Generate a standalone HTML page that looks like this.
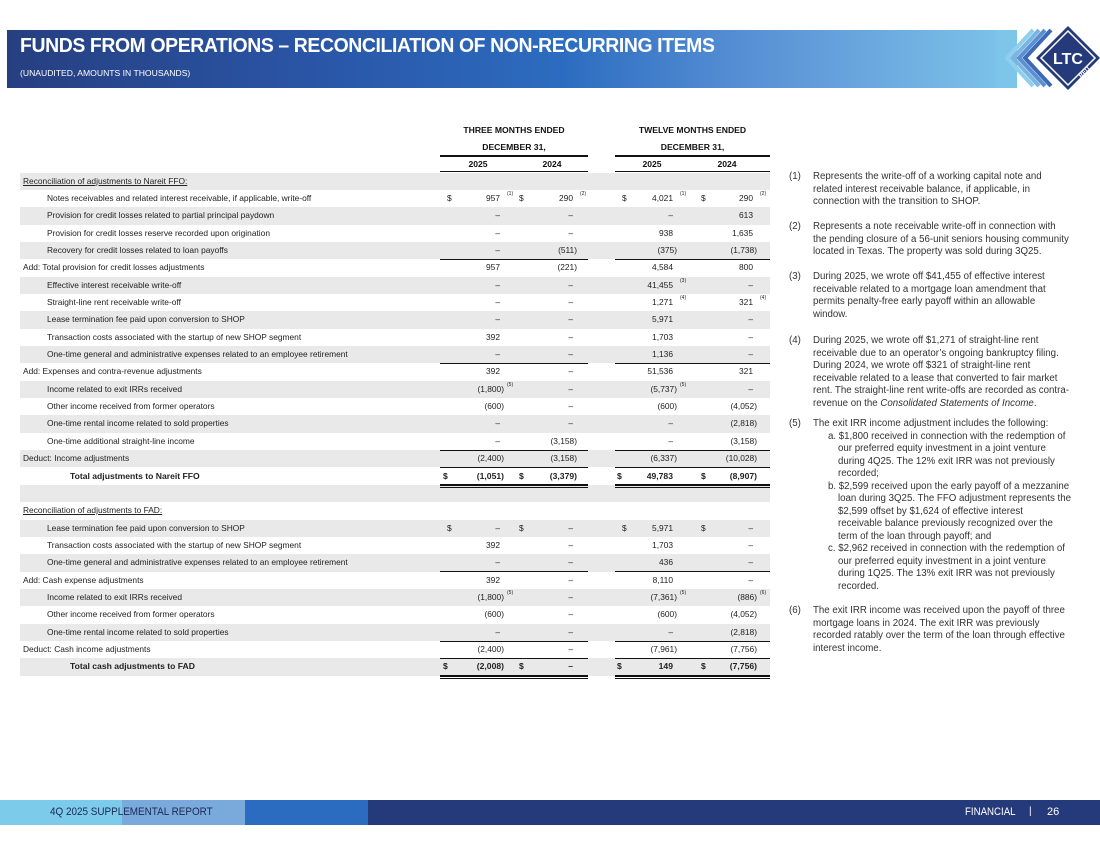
<!DOCTYPE html>
<html><head><meta charset="utf-8"><style>
body{margin:0;width:1100px;height:849px;position:relative;background:#fff;font-family:"Liberation Sans",sans-serif;overflow:hidden;color:#222}
.a{position:absolute}
.band{left:7px;top:30px;width:1010px;height:58px;background:linear-gradient(90deg,#263f80 0%,#2a55a6 30%,#2c6cc0 55%,#5b93d6 75%,#7ec5ea 100%)}
.title{left:20px;top:35px;color:#fff;font-weight:bold;font-size:20px;white-space:nowrap;transform:scaleX(0.97);transform-origin:0 0;letter-spacing:-0.4px}
.sub{left:20px;top:68px;color:#fff;font-size:8.6px;white-space:nowrap}
.r{position:absolute;left:0;width:1100px;height:17.35px;font-size:8.4px;line-height:17.35px;white-space:nowrap}
.g{background:linear-gradient(90deg,transparent 20px,#e9e9e9 20px,#e9e9e9 770px,transparent 770px)}
.r span{position:absolute}
.l1{left:47px}.l0{left:23px}
.d1{left:447px}.d2{left:519px}.d3{left:622px}.d4{left:701px}
.v1{right:596px}.v2{right:523px}.v3{right:423px}.v4{right:343px}
.n{padding-right:4px}
.r span sup{position:absolute;left:100%;top:-4px;font-size:5px;margin-left:3px}
.b{font-weight:bold;font-size:8.6px}
.ln{position:absolute;height:1px;background:#111}
.h{position:absolute;font-weight:bold;font-size:8.6px;text-align:center;color:#111}
.note{position:absolute;font-size:9.7px;line-height:12.5px;color:#333;white-space:nowrap}
.note .k{position:absolute;left:0}
.note .t{margin-left:24px}
.note .s{margin-left:39px}
.note .s2{margin-left:49px}
.ft{top:800px;height:25px}
</style></head><body>
<div class="a band"></div>
<div class="a title">FUNDS FROM OPERATIONS – RECONCILIATION OF NON-RECURRING ITEMS</div>
<div class="a sub">(UNAUDITED, AMOUNTS IN THOUSANDS)</div>
<svg class="a" style="left:995px;top:26px" width="105" height="66" viewBox="0 0 105 66">
<polygon points="0,4 22,4 22,62 0,62" fill="#7ec5ea"/>
<g fill="none" stroke-width="4">
<polyline points="38,4 12,32 38,60" stroke="#8fcfee"/>
<polyline points="44,4 18,32 44,60" stroke="#7ab4e0"/>
<polyline points="50,4 24,32 50,60" stroke="#5b8fd0"/>
<polyline points="56,4 30,32 56,60" stroke="#3b6bb8"/>
</g>
<polygon points="73,0 105,32 73,64 41,32" fill="#253a7a"/>
<polygon points="73,5 100,32 73,59 46,32" fill="none" stroke="#fff" stroke-width="1.5"/>
<text x="73" y="38" fill="#fff" font-size="16" font-weight="bold" text-anchor="middle" font-family="Liberation Sans">LTC</text>
<text x="86" y="52" fill="#fff" font-size="6" font-weight="bold" transform="rotate(-45 86 52)" font-family="Liberation Sans">REIT</text>
</svg>

<div class="h" style="left:440px;top:125px;width:148px">THREE MONTHS ENDED</div>
<div class="h" style="left:615px;top:125px;width:155px">TWELVE MONTHS ENDED</div>
<div class="h" style="left:440px;top:142px;width:148px">DECEMBER 31,</div>
<div class="h" style="left:615px;top:142px;width:155px">DECEMBER 31,</div>
<div class="ln" style="left:440px;top:155px;width:148px;height:1.5px"></div>
<div class="ln" style="left:615px;top:155px;width:155px;height:1.5px"></div>
<div class="h" style="left:458px;top:159px;width:40px">2025</div>
<div class="h" style="left:532px;top:159px;width:40px">2024</div>
<div class="h" style="left:632px;top:159px;width:40px">2025</div>
<div class="h" style="left:707px;top:159px;width:40px">2024</div>
<div class="ln" style="left:440px;top:171px;width:148px"></div>
<div class="ln" style="left:615px;top:171px;width:155px"></div>

<div class="r g" style="top:172.5px"><span class="l0" style="text-decoration:underline">Reconciliation of adjustments to Nareit FFO:</span></div>
<div class="r" style="top:189.9px"><span class="l1">Notes receivables and related interest receivable, if applicable, write-off</span><span class="d1">$</span><span class="v1 n">957<sup>(1)</sup></span><span class="d2">$</span><span class="v2 n">290<sup>(2)</sup></span><span class="d3">$</span><span class="v3 n">4,021<sup>(1)</sup></span><span class="d4">$</span><span class="v4 n">290<sup>(2)</sup></span></div>
<div class="r g" style="top:207.2px"><span class="l1">Provision for credit losses related to partial principal paydown</span><span class="v1 n">–</span><span class="v2 n">–</span><span class="v3 n">–</span><span class="v4 n">613</span></div>
<div class="r" style="top:224.6px"><span class="l1">Provision for credit losses reserve recorded upon origination</span><span class="v1 n">–</span><span class="v2 n">–</span><span class="v3 n">938</span><span class="v4 n">1,635</span></div>
<div class="r g" style="top:241.9px"><span class="l1">Recovery for credit losses related to loan payoffs</span><span class="v1 n">–</span><span class="v2">(511)</span><span class="v3">(375)</span><span class="v4">(1,738)</span></div>
<div class="r" style="top:259.3px"><span class="l0">Add: Total provision for credit losses adjustments</span><span class="v1 n">957</span><span class="v2">(221)</span><span class="v3 n">4,584</span><span class="v4 n">800</span></div>
<div class="r g" style="top:276.6px"><span class="l1">Effective interest receivable write-off</span><span class="v1 n">–</span><span class="v2 n">–</span><span class="v3 n">41,455<sup>(3)</sup></span><span class="v4 n">–</span></div>
<div class="r" style="top:294px"><span class="l1">Straight-line rent receivable write-off</span><span class="v1 n">–</span><span class="v2 n">–</span><span class="v3 n">1,271<sup>(4)</sup></span><span class="v4 n">321<sup>(4)</sup></span></div>
<div class="r g" style="top:311.3px"><span class="l1">Lease termination fee paid upon conversion to SHOP</span><span class="v1 n">–</span><span class="v2 n">–</span><span class="v3 n">5,971</span><span class="v4 n">–</span></div>
<div class="r" style="top:328.7px"><span class="l1">Transaction costs associated with the startup of new SHOP segment</span><span class="v1 n">392</span><span class="v2 n">–</span><span class="v3 n">1,703</span><span class="v4 n">–</span></div>
<div class="r g" style="top:346px"><span class="l1">One-time general and administrative expenses related to an employee retirement</span><span class="v1 n">–</span><span class="v2 n">–</span><span class="v3 n">1,136</span><span class="v4 n">–</span></div>
<div class="r" style="top:363.4px"><span class="l0">Add: Expenses and contra-revenue adjustments</span><span class="v1 n">392</span><span class="v2 n">–</span><span class="v3 n">51,536</span><span class="v4 n">321</span></div>
<div class="r g" style="top:380.7px"><span class="l1">Income related to exit IRRs received</span><span class="v1">(1,800)<sup>(5)</sup></span><span class="v2 n">–</span><span class="v3">(5,737)<sup>(5)</sup></span><span class="v4 n">–</span></div>
<div class="r" style="top:398.1px"><span class="l1">Other income received from former operators</span><span class="v1">(600)</span><span class="v2 n">–</span><span class="v3">(600)</span><span class="v4">(4,052)</span></div>
<div class="r g" style="top:415.4px"><span class="l1">One-time rental income related to sold properties</span><span class="v1 n">–</span><span class="v2 n">–</span><span class="v3 n">–</span><span class="v4">(2,818)</span></div>
<div class="r" style="top:432.8px"><span class="l1">One-time additional straight-line income</span><span class="v1 n">–</span><span class="v2">(3,158)</span><span class="v3 n">–</span><span class="v4">(3,158)</span></div>
<div class="r g" style="top:450.1px"><span class="l0">Deduct: Income adjustments</span><span class="v1">(2,400)</span><span class="v2">(3,158)</span><span class="v3">(6,337)</span><span class="v4">(10,028)</span></div>
<div class="r b" style="top:467.5px"><span class="l1" style="left:70px">Total adjustments to Nareit FFO</span><span style="left:443px">$</span><span class="v1">(1,051)</span><span class="d2">$</span><span class="v2">(3,379)</span><span style="left:617px">$</span><span class="v3 n">49,783</span><span class="d4">$</span><span class="v4">(8,907)</span></div>
<div class="r g" style="top:484.8px"></div>
<div class="r" style="top:502.2px"><span class="l0" style="text-decoration:underline">Reconciliation of adjustments to FAD:</span></div>
<div class="r g" style="top:519.5px"><span class="l1">Lease termination fee paid upon conversion to SHOP</span><span class="d1">$</span><span class="v1 n">–</span><span class="d2">$</span><span class="v2 n">–</span><span class="d3">$</span><span class="v3 n">5,971</span><span class="d4">$</span><span class="v4 n">–</span></div>
<div class="r" style="top:536.9px"><span class="l1">Transaction costs associated with the startup of new SHOP segment</span><span class="v1 n">392</span><span class="v2 n">–</span><span class="v3 n">1,703</span><span class="v4 n">–</span></div>
<div class="r g" style="top:554.2px"><span class="l1">One-time general and administrative expenses related to an employee retirement</span><span class="v1 n">–</span><span class="v2 n">–</span><span class="v3 n">436</span><span class="v4 n">–</span></div>
<div class="r" style="top:571.6px"><span class="l0">Add: Cash expense adjustments</span><span class="v1 n">392</span><span class="v2 n">–</span><span class="v3 n">8,110</span><span class="v4 n">–</span></div>
<div class="r g" style="top:588.9px"><span class="l1">Income related to exit IRRs received</span><span class="v1">(1,800)<sup>(5)</sup></span><span class="v2 n">–</span><span class="v3">(7,361)<sup>(5)</sup></span><span class="v4">(886)<sup>(6)</sup></span></div>
<div class="r" style="top:606.3px"><span class="l1">Other income received from former operators</span><span class="v1">(600)</span><span class="v2 n">–</span><span class="v3">(600)</span><span class="v4">(4,052)</span></div>
<div class="r g" style="top:623.6px"><span class="l1">One-time rental income related to sold properties</span><span class="v1 n">–</span><span class="v2 n">–</span><span class="v3 n">–</span><span class="v4">(2,818)</span></div>
<div class="r" style="top:641px"><span class="l0">Deduct: Cash income adjustments</span><span class="v1">(2,400)</span><span class="v2 n">–</span><span class="v3">(7,961)</span><span class="v4">(7,756)</span></div>
<div class="r g b" style="top:658.3px"><span class="l1" style="left:70px">Total cash adjustments to FAD</span><span style="left:443px">$</span><span class="v1">(2,008)</span><span class="d2">$</span><span class="v2 n">–</span><span style="left:617px">$</span><span class="v3 n">149</span><span class="d4">$</span><span class="v4">(7,756)</span></div>

<div class="ln" style="left:440px;top:258.8px;width:148px"></div><div class="ln" style="left:615px;top:258.8px;width:155px"></div>
<div class="ln" style="left:440px;top:362.9px;width:148px"></div><div class="ln" style="left:615px;top:362.9px;width:155px"></div>
<div class="ln" style="left:440px;top:449.6px;width:148px"></div><div class="ln" style="left:615px;top:449.6px;width:155px"></div>
<div class="ln" style="left:440px;top:467px;width:148px"></div><div class="ln" style="left:615px;top:467px;width:155px"></div>
<div class="ln" style="left:440px;top:571.1px;width:148px"></div><div class="ln" style="left:615px;top:571.1px;width:155px"></div>
<div class="ln" style="left:440px;top:640.5px;width:148px"></div><div class="ln" style="left:615px;top:640.5px;width:155px"></div>
<div class="ln" style="left:440px;top:657.8px;width:148px"></div><div class="ln" style="left:615px;top:657.8px;width:155px"></div>
<div class="ln" style="left:440px;top:484.3px;width:148px;height:1.5px"></div><div class="ln" style="left:615px;top:484.3px;width:155px;height:1.5px"></div>
<div class="ln" style="left:440px;top:487px;width:148px"></div><div class="ln" style="left:615px;top:487px;width:155px"></div>
<div class="ln" style="left:440px;top:675px;width:148px;height:1.5px"></div><div class="ln" style="left:615px;top:675px;width:155px;height:1.5px"></div>
<div class="ln" style="left:440px;top:677.7px;width:148px"></div><div class="ln" style="left:615px;top:677.7px;width:155px"></div>

<div class="note" style="left:789px;top:171px"><span class="k">(1)</span><div class="t">Represents the write-off of a working capital note and<br>related interest receivable balance, if applicable, in<br>connection with the transition to SHOP.</div></div>
<div class="note" style="left:789px;top:221px"><span class="k">(2)</span><div class="t">Represents a note receivable write-off in connection with<br>the pending closure of a 56-unit seniors housing community<br>located in Texas. The property was sold during 3Q25.</div></div>
<div class="note" style="left:789px;top:271px"><span class="k">(3)</span><div class="t">During 2025, we wrote off $41,455 of effective interest<br>receivable related to a mortgage loan amendment that<br>permits penalty-free early payoff within an allowable<br>window.</div></div>
<div class="note" style="left:789px;top:335px"><span class="k">(4)</span><div class="t">During 2025, we wrote off $1,271 of straight-line rent<br>receivable due to an operator’s ongoing bankruptcy filing.<br>During 2024, we wrote off $321 of straight-line rent<br>receivable related to a lease that converted to fair market<br>rent. The straight-line rent write-offs are recorded as contra-<br>revenue on the <i>Consolidated Statements of Income</i>.</div></div>
<div class="note" style="left:789px;top:418px"><span class="k">(5)</span><div class="t">The exit IRR income adjustment includes the following:</div>
<div class="s">a. $1,800 received in connection with the redemption of</div>
<div class="s2">our preferred equity investment in a joint venture<br>during 4Q25. The 12% exit IRR was not previously<br>recorded;</div>
<div class="s">b. $2,599 received upon the early payoff of a mezzanine</div>
<div class="s2">loan during 3Q25. The FFO adjustment represents the<br>$2,599 offset by $1,624 of effective interest<br>receivable balance previously recognized over the<br>term of the loan through payoff; and</div>
<div class="s">c. $2,962 received in connection with the redemption of</div>
<div class="s2">our preferred equity investment in a joint venture<br>during 1Q25. The 13% exit IRR was not previously<br>recorded.</div></div>
<div class="note" style="left:789px;top:605px"><span class="k">(6)</span><div class="t">The exit IRR income was received upon the payoff of three<br>mortgage loans in 2024. The exit IRR was previously<br>recorded ratably over the term of the loan through effective<br>interest income.</div></div>

<div class="a ft" style="left:0;width:122px;background:#7ccbea"></div>
<div class="a ft" style="left:122px;width:123px;background:#7aa9dc"></div>
<div class="a ft" style="left:245px;width:123px;background:#2b6cc0"></div>
<div class="a ft" style="left:368px;width:732px;background:#253a7a"></div>
<div class="a" style="left:50px;top:806px;font-size:11px;color:#1a2a55;white-space:nowrap;transform:scaleX(0.9);transform-origin:0 0">4Q 2025 SUPPLEMENTAL REPORT</div>
<div class="a" style="left:965px;top:806px;font-size:11px;color:#fff;white-space:nowrap;transform:scaleX(0.88);transform-origin:0 0">FINANCIAL</div>
<div class="a" style="left:1029px;top:806px;font-size:10px;color:#fff">|</div>
<div class="a" style="left:1047px;top:806px;font-size:11px;color:#fff">26</div>
</body></html>
